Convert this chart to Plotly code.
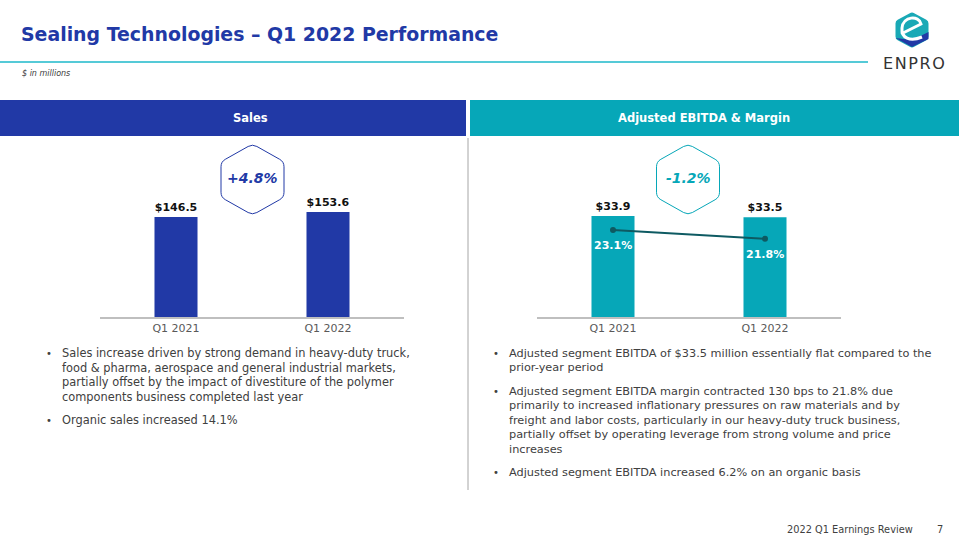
import plotly.graph_objects as go

W, H = 959, 540

# ---------------- data ----------------
periods = ["Q1 2021", "Q1 2022"]
sales = [146.5, 153.6]
ebitda = [33.9, 33.5]
margin = [23.1, 21.8]
sales_change = "+4.8%"
ebitda_change = "-1.2%"

title_text = "Sealing Technologies – Q1 2022 Performance"
unit_text = "$ in millions"
left_header = "Sales"
right_header = "Adjusted EBITDA & Margin"
left_bullets = [
    ["Sales increase driven by strong demand in heavy-duty truck,",
     "food & pharma, aerospace and general industrial markets,",
     "partially offset by the impact of divestiture of the polymer",
     "components business completed last year"],
    ["Organic sales increased 14.1%"],
]
right_bullets = [
    ["Adjusted segment EBITDA of $33.5 million essentially flat compared to the",
     "prior-year period"],
    ["Adjusted segment EBITDA margin contracted 130 bps to 21.8% due",
     "primarily to increased inflationary pressures on raw materials and by",
     "freight and labor costs, particularly in our heavy-duty truck business,",
     "partially offset by operating leverage from strong volume and price",
     "increases"],
    ["Adjusted segment EBITDA increased 6.2% on an organic basis"],
]
footer_text = "2022 Q1 Earnings Review"
page_no = "7"

# ---------------- styles ----------------
BLUE = "#2139A6"
TEAL = "#06A7B8"
CYAN_LINE = "#1CB8CA"
DARK_TEAL = "#0E5A62"
GRAY_TXT = "#404040"
FONT = "DejaVu Sans"


def px(x):
    return x / W


def py(y):
    return 1 - y / H


fig = go.Figure()

fig.add_trace(go.Bar(
    x=periods, y=sales, marker=dict(color=BLUE, line=dict(width=0)),
    text=[f"<b>${v:.1f}</b>" for v in sales], textposition="outside",
    textfont=dict(family=FONT, size=11, color="#111111"), cliponaxis=False,
    xaxis="x", yaxis="y", showlegend=False, hoverinfo="skip"))

fig.add_trace(go.Bar(
    x=periods, y=ebitda, marker=dict(color=TEAL, line=dict(width=0)),
    text=[f"<b>${v:.1f}</b>" for v in ebitda], textposition="outside",
    textfont=dict(family=FONT, size=11, color="#111111"), cliponaxis=False,
    xaxis="x2", yaxis="y2", showlegend=False, hoverinfo="skip"))

fig.add_trace(go.Scatter(
    x=periods, y=margin, mode="lines+markers",
    line=dict(color=DARK_TEAL, width=2), marker=dict(color=DARK_TEAL, size=6),
    xaxis="x2", yaxis="y3", showlegend=False, hoverinfo="skip", cliponaxis=False))

annotations = []
for p, m in zip(periods, margin):
    annotations.append(dict(
        x=p, y=m, xref="x2", yref="y3", text=f"<b>{m:.1f}%</b>", showarrow=False,
        yshift=-16, font=dict(family=FONT, size=11, color="white")))

ydom = [py(317), py(140)]
fig.update_layout(
    width=W, height=H, margin=dict(l=0, r=0, t=0, b=0),
    paper_bgcolor="white", plot_bgcolor="rgba(0,0,0,0)",
    bargap=0.717,
    xaxis=dict(domain=[px(100), px(404)], anchor="y", showline=True,
               linecolor="#BFBFBF", linewidth=1.5, ticks="", showgrid=False,
               tickfont=dict(family=FONT, size=11, color="#595959"), fixedrange=True),
    yaxis=dict(domain=ydom, range=[0, 259], visible=False, fixedrange=True),
    xaxis2=dict(domain=[px(537), px(841)], anchor="y2", showline=True,
                linecolor="#BFBFBF", linewidth=1.5, ticks="", showgrid=False,
                tickfont=dict(family=FONT, size=11, color="#595959"), fixedrange=True),
    yaxis2=dict(domain=ydom, range=[0, 59.4], visible=False, fixedrange=True),
    yaxis3=dict(domain=ydom, range=[10.5, 36.1], overlaying="y2", anchor="x2",
                visible=False, fixedrange=True),
)

shapes = []
# title underline
shapes.append(dict(type="line", xref="paper", yref="paper", x0=px(0), x1=px(868),
                   y0=py(62), y1=py(62), line=dict(color=CYAN_LINE, width=1.5)))
# header bars
shapes.append(dict(type="rect", xref="paper", yref="paper", x0=px(0), x1=px(466),
                   y0=py(136), y1=py(100), fillcolor=BLUE, line=dict(width=0)))
shapes.append(dict(type="rect", xref="paper", yref="paper", x0=px(470), x1=px(959),
                   y0=py(136), y1=py(100), fillcolor=TEAL, line=dict(width=0)))
# divider
shapes.append(dict(type="line", xref="paper", yref="paper", x0=px(468), x1=px(468),
                   y0=py(138), y1=py(490), line=dict(color="#A6A6A6", width=1)))


def hex_path(cx, cy, R, hw, rr=5):
    pts = [(cx, cy - R), (cx + hw, cy - R / 2), (cx + hw, cy + R / 2),
           (cx, cy + R), (cx - hw, cy + R / 2), (cx - hw, cy - R / 2)]
    n = len(pts)
    d = ""
    for i in range(n):
        prev = pts[i - 1]
        cur = pts[i]
        nxt = pts[(i + 1) % n]

        def towards(a, b, dist):
            dx, dy = b[0] - a[0], b[1] - a[1]
            L = (dx * dx + dy * dy) ** 0.5
            return (a[0] + dx / L * dist, a[1] + dy / L * dist)
        a = towards(cur, prev, rr)
        b = towards(cur, nxt, rr)
        d += ("M" if i == 0 else "L") + f"{px(a[0])},{py(a[1])} "
        d += f"Q{px(cur[0])},{py(cur[1])} {px(b[0])},{py(b[1])} "
    return d + "Z"


shapes.append(dict(type="path", xref="paper", yref="paper",
                   path=hex_path(252.5, 179.5, 35.5, 31.5),
                   line=dict(color=BLUE, width=1), fillcolor="rgba(0,0,0,0)"))
shapes.append(dict(type="path", xref="paper", yref="paper",
                   path=hex_path(688, 179.5, 35.5, 31.5),
                   line=dict(color=TEAL, width=1), fillcolor="rgba(0,0,0,0)"))

# logo
cx, cy, R, hw = 912, 30, 18, 16.5
shapes.append(dict(type="path", xref="paper", yref="paper",
                   path=hex_path(cx, cy, R, hw, rr=2.5),
                   line=dict(width=0), fillcolor="#19A9B6"))
blue_part = (f"M{px(cx - hw)},{py(38)} L{px(cx)},{py(cy + R - 1)} "
             f"L{px(cx + hw)},{py(cy + R / 2)} L{px(cx + hw)},{py(32)} "
             f"L{px(cx)},{py(40)} Z")
shapes.append(dict(type="path", xref="paper", yref="paper", path=blue_part,
                   line=dict(width=0), fillcolor=BLUE))
e_path = (f"M{px(901)},{py(34)} L{px(921)},{py(24)} "
          f"C{px(919)},{py(15)} {px(903)},{py(16)} {px(902)},{py(28)} "
          f"C{px(901)},{py(38)} {px(910)},{py(42)} {px(922)},{py(37)}")
shapes.append(dict(type="path", xref="paper", yref="paper", path=e_path,
                   line=dict(color="white", width=3), fillcolor="rgba(0,0,0,0)"))

# ---------------- texts ----------------
annotations.append(dict(x=px(19), y=py(34), xref="paper", yref="paper", xanchor="left",
                        yanchor="middle", showarrow=False, text=f"<b>{title_text}</b>",
                        font=dict(family=FONT, size=18.9, color=BLUE)))
annotations.append(dict(x=px(20), y=py(73), xref="paper", yref="paper", xanchor="left",
                        yanchor="middle", showarrow=False, text=f"<i>{unit_text}</i>",
                        font=dict(family=FONT, size=8, color=GRAY_TXT)))
annotations.append(dict(x=px(914), y=py(63), xref="paper", yref="paper", xanchor="center",
                        yanchor="middle", showarrow=False, text="E\u200aN\u200aP\u200aR\u200aO",
                        font=dict(family=FONT, size=16, color="#333333")))
annotations.append(dict(x=px(250), y=py(118), xref="paper", yref="paper", xanchor="center",
                        yanchor="middle", showarrow=False, text=f"<b>{left_header}</b>",
                        font=dict(family=FONT, size=11.5, color="white")))
annotations.append(dict(x=px(704), y=py(118), xref="paper", yref="paper", xanchor="center",
                        yanchor="middle", showarrow=False, text=f"<b>{right_header}</b>",
                        font=dict(family=FONT, size=11.5, color="white")))
annotations.append(dict(x=px(252.5), y=py(178), xref="paper", yref="paper", xanchor="center",
                        yanchor="middle", showarrow=False, text=f"<b><i>{sales_change}</i></b>",
                        font=dict(family=FONT, size=14, color=BLUE)))
annotations.append(dict(x=px(688), y=py(178), xref="paper", yref="paper", xanchor="center",
                        yanchor="middle", showarrow=False, text=f"<b><i>{ebitda_change}</i></b>",
                        font=dict(family=FONT, size=14, color=TEAL)))


def add_bullets(groups, xb, xt, y0, size):
    y = y0
    for g in groups:
        annotations.append(dict(x=px(xb), y=py(y), xref="paper", yref="paper",
                                xanchor="center", yanchor="middle", showarrow=False,
                                text="•", font=dict(family=FONT, size=10, color=GRAY_TXT)))
        for line in g:
            annotations.append(dict(x=px(xt), y=py(y), xref="paper", yref="paper",
                                    xanchor="left", yanchor="middle", showarrow=False,
                                    text=line, font=dict(family=FONT, size=size, color=GRAY_TXT)))
            y += 14.5
        y += 9


add_bullets(left_bullets, 49, 60, 353, 11.4)
add_bullets(right_bullets, 496, 507, 353, 11.3)

annotations.append(dict(x=px(915), y=py(529), xref="paper", yref="paper", xanchor="right",
                        yanchor="middle", showarrow=False, text=footer_text,
                        font=dict(family=FONT, size=9.8, color=GRAY_TXT)))
annotations.append(dict(x=px(940), y=py(529), xref="paper", yref="paper", xanchor="center",
                        yanchor="middle", showarrow=False, text=page_no,
                        font=dict(family=FONT, size=9.8, color=GRAY_TXT)))

fig.update_layout(shapes=shapes, annotations=annotations)
fig.write_html("out.html")
